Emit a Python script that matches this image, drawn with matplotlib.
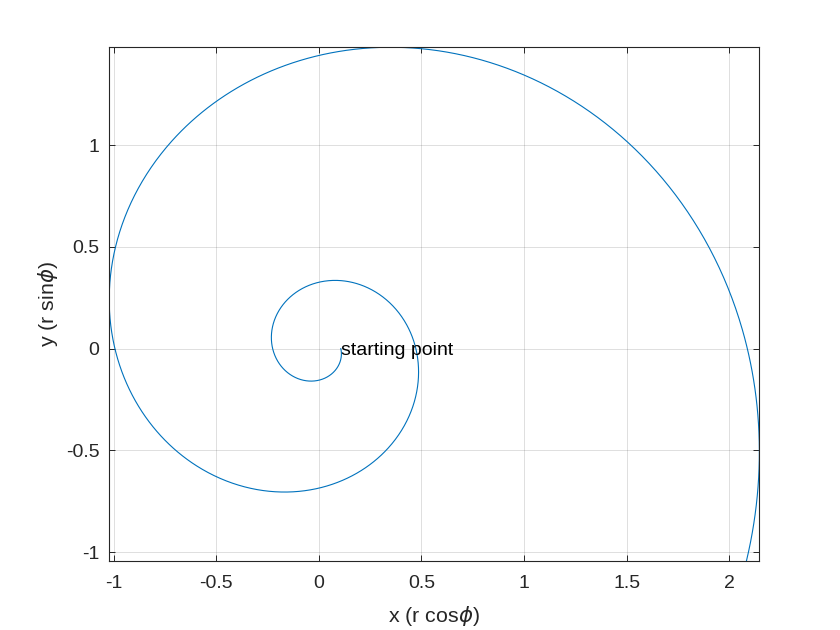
import numpy as np
import matplotlib
matplotlib.use("Agg")
import matplotlib.pyplot as plt

# spiral: r = r0 * exp(growth * |phi|), turning clockwise
r0 = 0.107        # radius at the starting point
growth = 0.2364   # log-growth per radian (about x4.4 per turn)
phi_end = -13.03  # last angle drawn (a bit over two turns)
n_points = 2000

xticks = [-1, -0.5, 0, 0.5, 1, 1.5, 2]
yticks = [-1, -0.5, 0, 0.5, 1]
xtick_labels = ["-1", "-0.5", "0", "0.5", "1", "1.5", "2"]
ytick_labels = ["-1", "-0.5", "0", "0.5", "1"]

label_text = "starting point"
xlabel = r"x (r cos$\phi$)"
ylabel = r"y (r sin$\phi$)"

plt.rcParams["font.family"] = ["Liberation Sans", "DejaVu Sans"]
plt.rcParams["mathtext.fontset"] = "dejavusans"

phi = np.linspace(0, phi_end, n_points)
r = r0 * np.exp(-growth * phi)
x = r * np.cos(phi)
y = r * np.sin(phi)

fig = plt.figure(figsize=(8.4, 6.3), dpi=100)
ax = fig.add_axes([0.13, 0.11, 0.774, 0.815])

ax.plot(x, y, color="#0072BD", lw=0.8)
ax.text(x[0], y[0], label_text, fontsize=14, color="black",
        ha="left", va="center_baseline")

# axis tight like MATLAB
ax.set_xlim(x.min(), x.max())
ax.set_ylim(y.min(), y.max())

ax.set_xticks(xticks)
ax.set_xticklabels(xtick_labels)
ax.set_yticks(yticks)
ax.set_yticklabels(ytick_labels)

axcol = "#262626"
ax.tick_params(direction="in", length=4.2, width=0.7, colors=axcol,
               labelsize=14, top=True, right=True)
ax.tick_params(axis="x", pad=10)
ax.tick_params(axis="y", pad=7)
for spine in ax.spines.values():
    spine.set_color(axcol)
    spine.set_linewidth(0.8)

ax.grid(True, color="#262626", alpha=0.15, lw=0.7)
ax.set_axisbelow(True)

ax.set_xlabel(xlabel, fontsize=15.4, color=axcol, labelpad=9)
ax.set_ylabel(ylabel, fontsize=15.4, color=axcol, labelpad=4)

fig.savefig("out.png", dpi=100)
